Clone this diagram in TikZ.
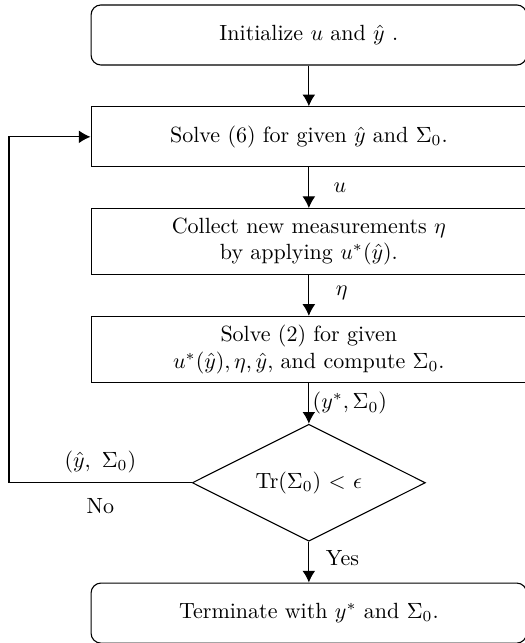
\documentclass[tikz,border=0pt]{standalone}
\usepackage{amsmath}
\usepackage{tikz}
\usetikzlibrary{positioning}
\usetikzlibrary{shapes.geometric}
\usetikzlibrary{arrows.meta}
\tikzset{
  Block/.style={draw, rectangle, minimum width=198pt, minimum height=#1, align=center}, % Kasten
  Block/.default=27.3pt,
  Terminal/.style={Block, rounded corners=4.5pt}, % Start / Ende
  Decision/.style={draw, diamond, aspect=2, minimum width=106pt, minimum height=53.2pt, inner sep=0pt},
  Pfeil/.style={->}, % Verbindungen
  Label/.style={right, inner sep=1.5pt}
}

\begin{document}
\begin{tikzpicture}[%
line width=0.5pt,
node distance=18.5pt,
>={Latex[length=5.3pt,width=5.8pt]} % Pfeilspitzen
]
\useasboundingbox (0,0) rectangle (238.6pt,-292.3pt);

%Kaesten
\node[Terminal] (init) at (140.4pt,-15.9pt) {Initialize $u$ and $\hat{y}$ .};
\node[Block, below=of init] (solve) {Solve (6) for given $\hat{y}$ and $\Sigma_0$.};
\node[Block=30pt, below=of solve] (collect) {Collect new measurements $\eta$\\ by applying $u^*(\hat{y})$.};
\node[Block=30pt, below=of collect] (update) {Solve (2) for given\\ $u^*(\hat{y}), \eta, \hat{y}$, and compute $\Sigma_0$.};
\node[Decision, below=of update] (check) {$\mathrm{Tr}(\Sigma_0)$ $<$ $\epsilon$};
\node[Terminal, below=of check] (stop) {Terminate with $y^*$ and $\Sigma_0$.};

%Rueckfuehrung
\coordinate (rand) at (4.1pt,0);

%Verbindungen
\draw[Pfeil] (init) -- (solve);
\draw[Pfeil] (solve) -- node[Label, xshift=9.5pt]{$u$} (collect);
\draw[Pfeil] (collect) -- node[Label, xshift=10.5pt, yshift=1pt]{$\eta$} (update);
\draw[Pfeil] (update) -- node[Label]{$(y^*, \Sigma_0)$} (check);
\draw[Pfeil] (check) -- node[Label, xshift=6pt, yshift=2pt]{Yes} (stop);
\draw[Pfeil] (check.west) -- node[above, yshift=1pt]{$(\hat{y},\ \Sigma_0)$} node[below=3.5pt]{No} (check.west -| rand) |- (solve.west);

\end{tikzpicture}
\end{document}
